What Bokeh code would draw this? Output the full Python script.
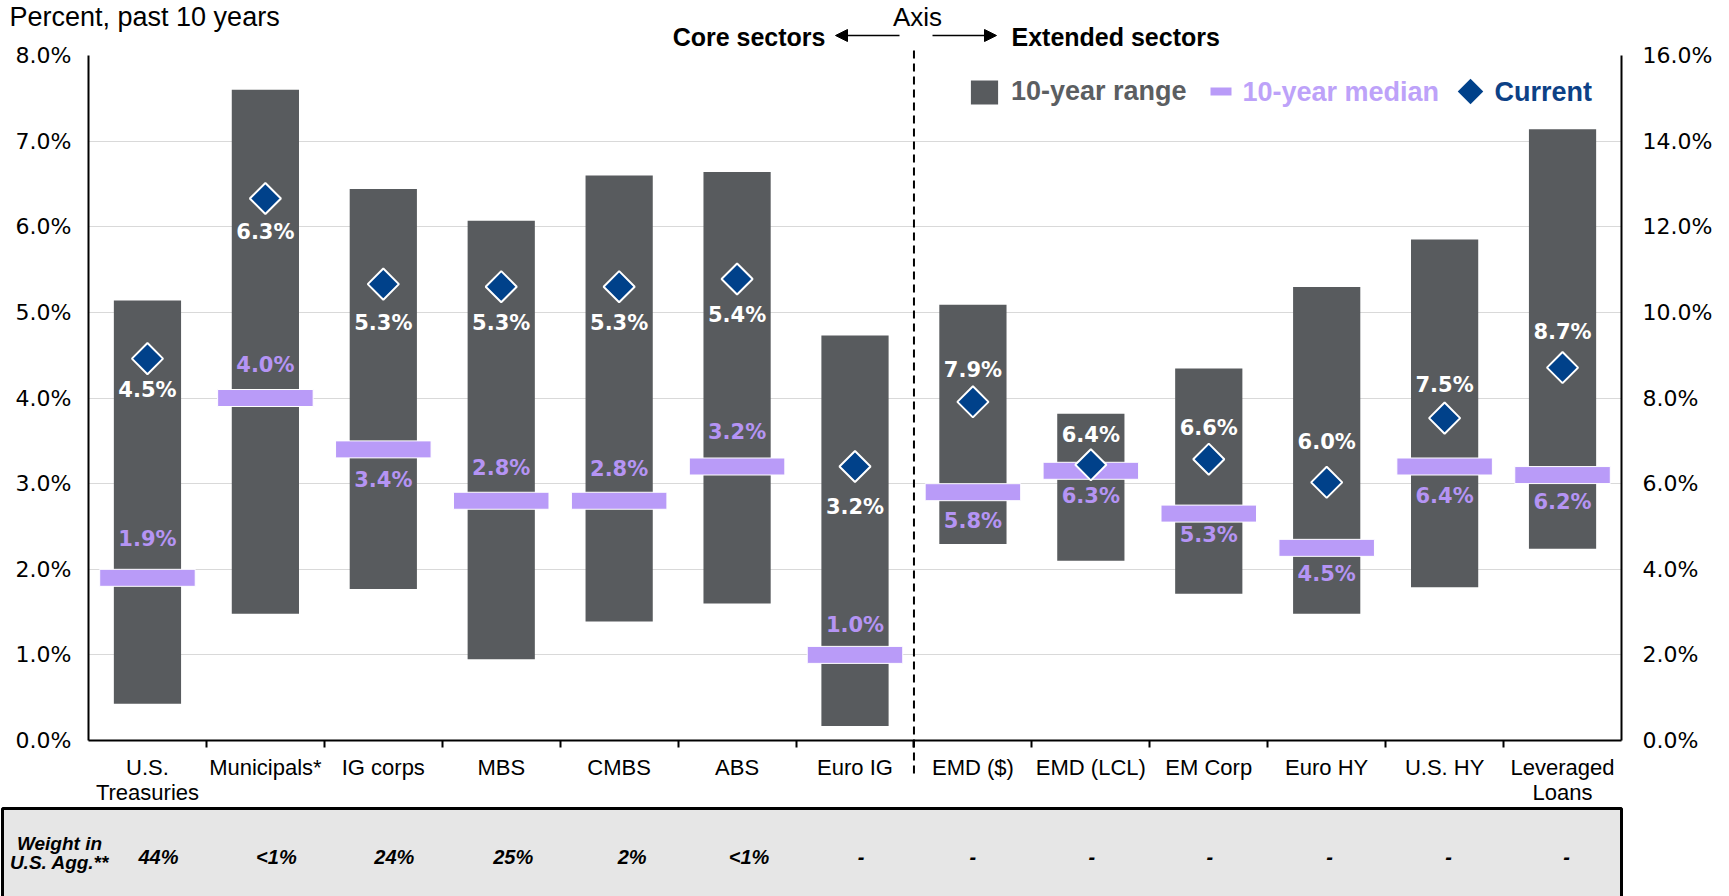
import numpy as np
from bokeh.plotting import figure
from bokeh.models import (ColumnDataSource, Range1d, LinearAxis, FixedTicker, PrintfTickFormatter,
                          Label, Arrow, NormalHead, Legend, LegendItem, GridBox)
from bokeh.core.properties import value
from bokeh.embed import file_html
from bokeh.resources import INLINE

# ---------------- data ----------------
categories = ["U.S.\nTreasuries", "Municipals*", "IG corps", "MBS", "CMBS", "ABS", "Euro IG",
              "EMD ($)", "EMD (LCL)", "EM Corp", "Euro HY", "U.S. HY", "Leveraged\nLoans"]
n_core = 7  # first 7 on left axis (core sectors), rest on right axis (extended sectors)
range_low = [0.43, 1.48, 1.77, 0.95, 1.39, 1.60, 0.17,
             4.59, 4.20, 3.43, 2.96, 3.58, 4.48]
range_high = [5.14, 7.60, 6.44, 6.07, 6.60, 6.64, 4.73,
              10.18, 7.63, 8.69, 10.59, 11.70, 14.28]
median = [1.9, 4.0, 3.4, 2.8, 2.8, 3.2, 1.0,
          5.8, 6.3, 5.3, 4.5, 6.4, 6.2]
current = [4.46, 6.33, 5.33, 5.30, 5.30, 5.39, 3.20,
           7.91, 6.44, 6.57, 6.03, 7.53, 8.71]
weights = ["44%", "<1%", "24%", "25%", "2%", "<1%", "-", "-", "-", "-", "-", "-", "-"]
left_ticks = [0, 1, 2, 3, 4, 5, 6, 7, 8]
right_ticks = [0, 2, 4, 6, 8, 10, 12, 14, 16]

# label placement (style): vertical pixel offsets of the value labels, horizontal
# nudges of the table entries
cur_label_dy = [31, 34, 39, 36, 36, 36, 40, -32, -30, -31, -40, -33, -36]
med_label_dy = [-39, -33, 31, -33, -32, -35, -30, 29, 25, 21, 26, 29, 27]
weight_dx = [11, 11, 11, 12, 13, 12, 6, 0, 1, 1, 3, 4, 4]

# ---------------- styles / layout ----------------
BAR = "#585B5E"
MED = "#B99BF8"
MED_TXT = "#B594F4"
CUR = "#00418A"
CUR_TXT = "#0C4186"
RANGE_TXT = "#5B5E61"
GRID = "#D9D9D9"
W, H = 1729, 896
FL, FR, FT, FB = 88, 1621, 55, 740      # 0..8 % plot area in page pixels
NCAT = len(categories)
XPX = (FR - FL) / NCAT                   # pixels per category
YPX = (FB - FT) / 8.0                    # pixels per left-axis unit
X0, X1 = -FL / XPX, NCAT + (W - FR) / XPX

def px2x(px):
    return (px - FL) / XPX

def px2y(py):
    return (FB - py) / YPX

LBL_FONT = "Liberation Sans"
NUM_FONT = "DejaVu Sans"

def src(idx):
    return ColumnDataSource(dict(
        x=[i + 0.5 for i in idx],
        low=[range_low[i] for i in idx],
        high=[range_high[i] for i in idx],
        med=[median[i] for i in idx],
        cur=[current[i] for i in idx],
        cur_lbl=["%.1f%%" % current[i] for i in idx],
        med_lbl=["%.1f%%" % median[i] for i in idx],
        cur_off=[cur_label_dy[i] for i in idx],
        med_off=[med_label_dy[i] for i in idx],
    ))

# ================= main chart figure =================
p = figure(width=W, height=H, x_range=Range1d(0, NCAT), y_range=Range1d(0, 8),
           output_backend="svg", toolbar_location=None, title=None,
           min_border_left=FL, min_border_right=W - FR, min_border_top=FT,
           min_border_bottom=H - FB)
p.frame_align = False
p.extra_y_ranges = {"right": Range1d(0, 16)}
p.outline_line_color = None
p.background_fill_color = "white"
p.border_fill_color = "white"
p.xgrid.visible = False
p.ygrid.ticker = FixedTicker(ticks=left_ticks)
p.ygrid.grid_line_color = GRID
p.ygrid.grid_line_width = 1

xa = p.xaxis[0]
xa.ticker = FixedTicker(ticks=list(range(1, NCAT)))
xa.major_label_overrides = {i: "" for i in range(1, NCAT)}
xa.major_label_text_font_size = "0px"
xa.major_label_standoff = 0
xa.major_tick_in = 0
xa.major_tick_out = 7
xa.major_tick_line_width = 2
xa.major_tick_line_color = "black"
xa.minor_tick_in = 0
xa.minor_tick_out = 0
xa.axis_line_color = "black"
xa.axis_line_width = 2

def style_y(ax, standoff):
    ax.major_tick_in = 0
    ax.major_tick_out = 0
    ax.minor_tick_in = 0
    ax.minor_tick_out = 0
    ax.axis_line_color = "black"
    ax.axis_line_width = 2
    ax.major_label_text_font = NUM_FONT
    ax.major_label_text_font_size = "22px"
    ax.major_label_text_color = "black"
    ax.major_label_standoff = standoff

ya = p.yaxis[0]
ya.ticker = FixedTicker(ticks=left_ticks)
ya.formatter = PrintfTickFormatter(format="%.1f%%")
style_y(ya, 17)

ra = LinearAxis(y_range_name="right", ticker=FixedTicker(ticks=right_ticks),
                formatter=PrintfTickFormatter(format="%.1f%%"))
style_y(ra, 21)
p.add_layout(ra, "right")

core_src = src(range(n_core))
ext_src = src(range(n_core, NCAT))
first = {}
for s, rng in ((core_src, "default"), (ext_src, "right")):
    bars = p.vbar(x="x", width=0.57, bottom="low", top="high", source=s, y_range_name=rng,
                  fill_color=BAR, line_color=None)
    p.rect(x="x", y="med", width=0.81, height=17, height_units="screen", source=s,
           y_range_name=rng, fill_color=MED, line_color="white", line_width=1)
    p.scatter(x="x", y="cur", marker="square", angle=np.pi / 4, size=22, source=s,
              y_range_name=rng, fill_color=CUR, line_color="white", line_width=2)
    p.text(x="x", y="med", text="med_lbl", y_offset="med_off", source=s, y_range_name=rng,
           text_align="center", text_baseline="middle", text_color=MED_TXT,
           text_font=value(NUM_FONT), text_font_style="bold", text_font_size="21px")
    p.text(x="x", y="cur", text="cur_lbl", y_offset="cur_off", source=s, y_range_name=rng,
           text_align="center", text_baseline="middle", text_color="white",
           text_font=value(NUM_FONT), text_font_style="bold", text_font_size="21px")
    if rng == "default":
        first["bars"] = bars

# legend: range entry via Legend, median & current keys drawn next to their labels
lg = Legend(items=[LegendItem(label="10-year range", renderers=[first["bars"]])],
            location=(879, 633), glyph_width=34, glyph_height=30, label_standoff=10,
            padding=0, margin=0, spacing=0, border_line_color=None,
            background_fill_alpha=0, label_text_font=LBL_FONT,
            label_text_font_style="bold", label_text_font_size="27px",
            label_text_color=RANGE_TXT)
p.add_layout(lg)
LEG_Y = px2y(91)
p.rect(x=[px2x(1220.5)], y=[LEG_Y], width=21, height=8, width_units="screen",
       height_units="screen", fill_color=MED, line_color=None)
p.add_layout(Label(x=px2x(1242), y=LEG_Y, text="10-year median", text_align="left",
                   text_baseline="middle", text_font=LBL_FONT, text_font_style="bold",
                   text_font_size="27px", text_color="#BDA2F9"))
p.scatter(x=[px2x(1470)], y=[LEG_Y], marker="square", angle=np.pi / 4, size=18,
          fill_color=CUR, line_color=None)
p.add_layout(Label(x=px2x(1494), y=LEG_Y, text="Current", text_align="left",
                   text_baseline="middle", text_font=LBL_FONT, text_font_style="bold",
                   text_font_size="27px", text_color=CUR_TXT))

# ================= overlay figure (whole page, page-pixel y) =================
ov = figure(width=W, height=H, x_range=Range1d(X0, X1), y_range=Range1d(H, 0),
            x_axis_location=None, y_axis_location=None, title=None,
            min_border=0, output_backend="svg", toolbar_location=None)
ov.frame_align = False
ov.outline_line_color = None
ov.grid.visible = False
ov.background_fill_alpha = 0
ov.border_fill_alpha = 0

# header
ov.add_layout(Label(x=px2x(9), y=16, text="Percent, past 10 years", text_align="left",
                    text_baseline="middle", text_font=LBL_FONT, text_font_size="27px",
                    text_color="black"))
ov.add_layout(Label(x=px2x(917), y=16, text="Axis", text_align="center", text_baseline="middle",
                    text_font=LBL_FONT, text_font_size="26px", text_color="black"))
ov.add_layout(Label(x=px2x(825), y=36, text="Core sectors", text_align="right",
                    text_baseline="middle", text_font=LBL_FONT, text_font_style="bold",
                    text_font_size="25px", text_color="black"))
ov.add_layout(Label(x=px2x(1011), y=36, text="Extended sectors", text_align="left",
                    text_baseline="middle", text_font=LBL_FONT, text_font_style="bold",
                    text_font_size="25px", text_color="black"))
ov.add_layout(Arrow(end=NormalHead(size=12, fill_color="black", line_color="black"),
                    x_start=px2x(899), y_start=35, x_end=px2x(835), y_end=35,
                    line_color="black", line_width=1.5))
ov.add_layout(Arrow(end=NormalHead(size=12, fill_color="black", line_color="black"),
                    x_start=px2x(932), y_start=35, x_end=px2x(996), y_end=35,
                    line_color="black", line_width=1.5))
# divider between core and extended sectors
ov.add_layout(Arrow(end=None, x_start=n_core, y_start=50, x_end=n_core, y_end=777,
                    line_color="black", line_width=2, line_dash="8 5"))

# category labels under the axis
ov.text(x=[i + 0.5 for i in range(NCAT)], y=[754] * NCAT, text=categories,
        text_align="center", text_baseline="top", text_font=value(LBL_FONT),
        text_font_size="22px", text_color="black", text_line_height=1.0)

# weight table
ov.quad(left=[px2x(2)], right=[NCAT], top=[808], bottom=[H + 10],
        fill_color="#E6E6E6", line_color="black", line_width=3)
ov.text(x=[px2x(59), px2x(59)], y=[843, 862], text=["Weight in", "U.S. Agg.**"],
        text_align="center", text_baseline="middle", text_font=value(LBL_FONT),
        text_font_style="bold italic", text_font_size="19px", text_color="black")
w_src = ColumnDataSource(dict(x=[i + 0.5 for i in range(NCAT)], y=[856] * NCAT,
                              w=weights, dx=weight_dx))
ov.text(x="x", y="y", text="w", x_offset="dx", source=w_src,
        text_align="center", text_baseline="middle", text_font=value(LBL_FONT),
        text_font_style="bold italic", text_font_size="20px", text_color="black")

layout = GridBox(children=[(p, 0, 0), (ov, 0, 0)])
open("out.html", "w").write(file_html(layout, INLINE))
